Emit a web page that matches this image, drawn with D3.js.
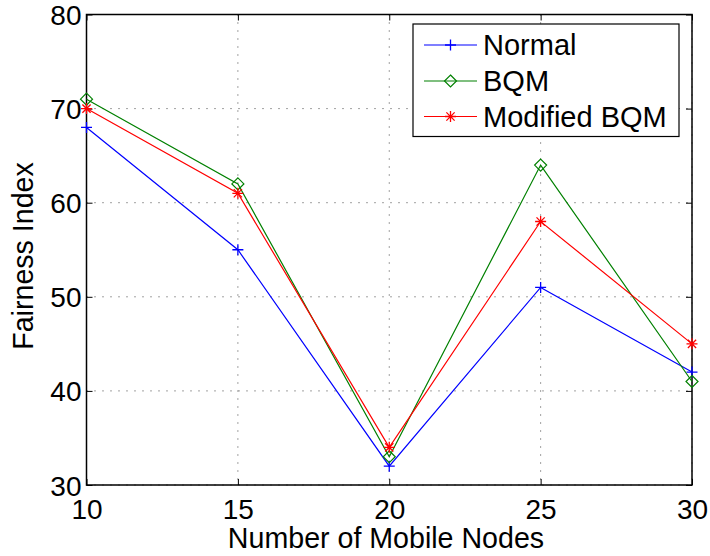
<!DOCTYPE html>
<html>
<head>
<meta charset="utf-8">
<script src="https://cdn.jsdelivr.net/npm/d3@7"></script>
<style>
  html, body { margin: 0; padding: 0; background: #fff; }
  svg { display: block; font-family: "Liberation Sans", Arial, sans-serif; }
</style>
</head>
<body>
<svg id="chart" width="710" height="556"></svg>
<script>
// Fairness index versus number of mobile nodes
const nodes = [10, 15, 20, 25, 30];
const normal = [68, 55, 32, 51, 42];
const bqm = [71, 62, 33, 64, 41];
const modifiedBqm = [70, 61, 34, 58, 45];
const xTicks = [10, 15, 20, 25, 30];
const yTicks = [30, 40, 50, 60, 70, 80];
const seriesNames = ["Normal", "BQM", "Modified BQM"];
const seriesColors = ["#0000ff", "#008000", "#ff0000"];
const seriesMarkers = ["plus", "diamond", "star"];

const svg = d3.select("#chart");
const plotL = 86.5, plotR = 692, plotT = 14.5, plotB = 485;
const x = d3.scaleLinear().domain([10, 30]).range([plotL, plotR]);
const y = d3.scaleLinear().domain([30, 80]).range([plotB, plotT]);
const tickFont = 28;
const labelFont = 28.6;
const legendFont = 29;

// dotted grid
const grid = svg.append("g");
xTicks.forEach(t => {
  grid.append("line").attr("x1", x(t)).attr("x2", x(t)).attr("y1", plotT).attr("y2", plotB)
    .attr("stroke", "#444").attr("stroke-width", 1).attr("stroke-dasharray", "1,7");
});
yTicks.forEach(t => {
  grid.append("line").attr("x1", plotL).attr("x2", plotR).attr("y1", y(t)).attr("y2", y(t))
    .attr("stroke", "#444").attr("stroke-width", 1).attr("stroke-dasharray", "1,7");
});

// axes (ticks pointing inward)
const xAxis = d3.axisBottom(x).tickValues(xTicks).tickSizeInner(-6).tickSizeOuter(0).tickPadding(14);
const yAxis = d3.axisLeft(y).tickValues(yTicks).tickSizeInner(-6).tickSizeOuter(0).tickPadding(5);
const gx = svg.append("g").attr("transform", `translate(0,${plotB})`).call(xAxis);
const gy = svg.append("g").attr("transform", `translate(${plotL},0)`).call(yAxis);
const xAxisTop = d3.axisTop(x).tickValues(xTicks).tickSizeInner(-6).tickSizeOuter(0).tickFormat("");
const yAxisRight = d3.axisRight(y).tickValues(yTicks).tickSizeInner(-6).tickSizeOuter(0).tickFormat("");
svg.append("g").attr("transform", `translate(0,${plotT})`).call(xAxisTop);
svg.append("g").attr("transform", `translate(${plotR},0)`).call(yAxisRight);
svg.selectAll(".domain").remove();
svg.selectAll(".tick line").attr("stroke", "#000");
[gx, gy].forEach(g => g.selectAll("text").attr("font-size", tickFont).attr("fill", "#000")
  .attr("font-family", "Liberation Sans, Arial, sans-serif"));
gx.selectAll("text").attr("dy", "0.71em");
gy.selectAll("text").attr("dy", "0.36em");

// axes box
svg.append("rect").attr("x", plotL).attr("y", plotT).attr("width", plotR - plotL).attr("height", plotB - plotT)
  .attr("fill", "none").attr("stroke", "#000").attr("stroke-width", 1.5);

// axis titles
svg.append("text").attr("x", 386).attr("y", 548)
  .attr("text-anchor", "middle").attr("font-size", labelFont).text("Number of Mobile Nodes");
svg.append("text").attr("transform", `translate(33,256) rotate(-90)`)
  .attr("text-anchor", "middle").attr("font-size", labelFont).text("Fairness Index");

// marker shapes
function drawMarker(g, type, cx, cy, color) {
  if (type === "plus") {
    const r = 5.5;
    g.append("path").attr("d", `M${cx - r},${cy}H${cx + r}M${cx},${cy - r}V${cy + r}`)
      .attr("stroke", color).attr("stroke-width", 1.3).attr("fill", "none");
  } else if (type === "diamond") {
    const r = 6;
    g.append("path").attr("d", `M${cx},${cy - r}L${cx + r},${cy}L${cx},${cy + r}L${cx - r},${cy}Z`)
      .attr("stroke", color).attr("stroke-width", 1.2).attr("fill", "none");
  } else {
    const r = 5.5, d = r * 0.75;
    g.append("path").attr("d",
      `M${cx - r},${cy}H${cx + r}M${cx},${cy - r}V${cy + r}M${cx - d},${cy - d}L${cx + d},${cy + d}M${cx - d},${cy + d}L${cx + d},${cy - d}`)
      .attr("stroke", color).attr("stroke-width", 1.3).attr("fill", "none");
  }
}

const allSeries = [normal, bqm, modifiedBqm];
const line = d3.line().x((d, i) => x(nodes[i])).y(d => y(d));
allSeries.forEach((vals, s) => {
  const g = svg.append("g");
  g.append("path").datum(vals).attr("d", line).attr("fill", "none")
    .attr("stroke", seriesColors[s]).attr("stroke-width", 1.2);
  vals.forEach((v, i) => drawMarker(g, seriesMarkers[s], x(nodes[i]), y(v), seriesColors[s]));
});

// legend
const lg = svg.append("g");
lg.append("rect").attr("x", 413).attr("y", 24).attr("width", 266).attr("height", 112.5)
  .attr("fill", "#fff").attr("stroke", "#000").attr("stroke-width", 1.2);
const rowY = [45, 81, 116.5];
seriesNames.forEach((name, s) => {
  lg.append("line").attr("x1", 424).attr("x2", 477).attr("y1", rowY[s]).attr("y2", rowY[s])
    .attr("stroke", seriesColors[s]).attr("stroke-width", 1.2);
  drawMarker(lg, seriesMarkers[s], 450.5, rowY[s], seriesColors[s]);
  lg.append("text").attr("x", 483).attr("y", rowY[s]).attr("dy", "0.36em")
    .attr("font-size", legendFont).text(name);
});
</script>
</body>
</html>
